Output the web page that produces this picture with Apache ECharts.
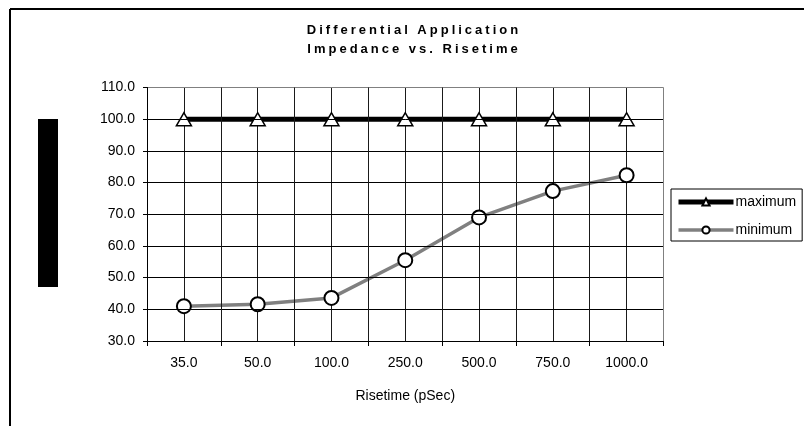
<!DOCTYPE html>
<html>
<head>
<meta charset="utf-8">
<script src="https://cdn.jsdelivr.net/npm/echarts@6/dist/echarts.min.js"></script>
<style>
  html, body { margin: 0; padding: 0; background: #fff; }
  #chart { width: 804px; height: 426px; }
</style>
</head>
<body>
<div id="chart"></div>
<script>
// ---- data ----
const categories = ['35.0', '50.0', '100.0', '250.0', '500.0', '750.0', '1000.0'];
const maximumValues = [100, 100, 100, 100, 100, 100, 100];
const minimumValues = [41.0, 41.6, 43.6, 55.5, 69.0, 77.3, 82.3];
const yTicks = [30, 40, 50, 60, 70, 80, 90, 100, 110];
const titleLines = ['Differential Application', 'Impedance vs. Risetime'];
const xAxisTitle = 'Risetime (pSec)';
const seriesNames = ['maximum', 'minimum'];

// letter spacing for title text (Excel-style spaced title)
const origFill = CanvasRenderingContext2D.prototype.fillText;
CanvasRenderingContext2D.prototype.fillText = function (t, x, y, mw) {
  let ls = null;
  if (titleLines.indexOf(String(t)) >= 0) ls = '3px';
  if (ls && 'letterSpacing' in this) {
    const prev = this.letterSpacing;
    this.letterSpacing = ls;
    const r = mw === undefined ? origFill.call(this, t, x, y) : origFill.call(this, t, x, y, mw);
    this.letterSpacing = prev;
    return r;
  }
  return mw === undefined ? origFill.call(this, t, x, y) : origFill.call(this, t, x, y, mw);
};

const vColors = [];
for (let i = 0; i <= categories.length; i++) vColors.push(i === categories.length ? '#808080' : '#1a1a1a');
const hColors = yTicks.map((v, i) => i === yTicks.length - 1 ? '#808080' : '#000');

const FONT = 'Liberation Sans, Arial, sans-serif';
const chart = echarts.init(document.getElementById('chart'), null, { renderer: 'canvas' });
chart.setOption({
  animation: false,
  backgroundColor: '#fff',
  title: {
    text: titleLines.join('\n'),
    left: 414,
    top: 21,
    textAlign: 'center',
    padding: 0,
    textStyle: { fontFamily: FONT, fontSize: 13, fontWeight: 'bold', color: '#000', lineHeight: 19 }
  },
  graphic: [
    { type: 'line', shape: { x1: 10, y1: 9, x2: 804, y2: 9 }, style: { stroke: '#000', lineWidth: 2 } },
    { type: 'line', shape: { x1: 10, y1: 9, x2: 10, y2: 426 }, style: { stroke: '#000', lineWidth: 2 } },
    { type: 'rect', shape: { x: 38, y: 119, width: 20, height: 168 }, style: { fill: '#000' } }
  ],
  legend: {
    orient: 'vertical',
    left: 671,
    top: 189,
    padding: [6, 6, 4, 5],
    itemGap: 14,
    itemWidth: 55,
    itemHeight: 9,
    borderColor: '#000',
    borderWidth: 1,
    backgroundColor: '#fff',
    data: [
      { name: seriesNames[0], lineStyle: { width: 5, color: '#000' } },
      { name: seriesNames[1], lineStyle: { width: 3.5, color: '#808080' } }
    ],
    textStyle: { fontFamily: FONT, fontSize: 14, color: '#000', padding: [0, 0, 0, -3] }
  },
  grid: {
    left: 147, right: 140.5, top: 87.5, bottom: 85,
    show: false
  },
  xAxis: {
    type: 'category',
    data: categories,
    boundaryGap: true,
    axisLine: { show: true, lineStyle: { color: '#000', width: 1 } },
    axisTick: { show: true, length: 5, inside: false, interval: 0, lineStyle: { color: '#000' } },
    axisLabel: { fontFamily: FONT, fontSize: 14, color: '#000', margin: 15, interval: 0 },
    splitLine: { show: true, interval: 0, lineStyle: { color: vColors, width: 1 } },
    name: xAxisTitle,
    nameLocation: 'middle',
    nameGap: 48,
    nameTextStyle: { fontFamily: FONT, fontSize: 14, color: '#000' },
    z: 5
  },
  yAxis: {
    type: 'value',
    min: 30, max: 110, interval: 10,
    axisLine: { show: true, lineStyle: { color: '#000', width: 1 } },
    axisTick: { show: true, length: 4, lineStyle: { color: '#000' } },
    axisLabel: { fontFamily: FONT, fontSize: 14, color: '#000', margin: 12, formatter: v => v.toFixed(1) },
    splitLine: { show: true, lineStyle: { color: hColors, width: 1 } },
    z: 5
  },
  series: [{
    name: seriesNames[0],
    type: 'line',
    data: maximumValues,
    symbol: 'triangle',
    symbolSize: [15, 13],
    lineStyle: { color: '#000', width: 5 },
    itemStyle: { color: '#fff', borderColor: '#000', borderWidth: 1.5 },
    z: 3,
    markLine: {
      silent: true,
      symbol: 'none',
      label: { show: false },
      lineStyle: { color: '#1a1a1a', width: 1, type: 'solid' },
      z: 1,
      data: categories.map(c => ({ xAxis: c }))
    }
  }, {
    name: seriesNames[1],
    type: 'line',
    data: minimumValues,
    symbol: 'circle',
    symbolSize: 14,
    lineStyle: { color: '#808080', width: 3.5 },
    itemStyle: { color: '#fff', borderColor: '#000', borderWidth: 2 },
    z: 2
  }]
});
</script>
</body>
</html>
